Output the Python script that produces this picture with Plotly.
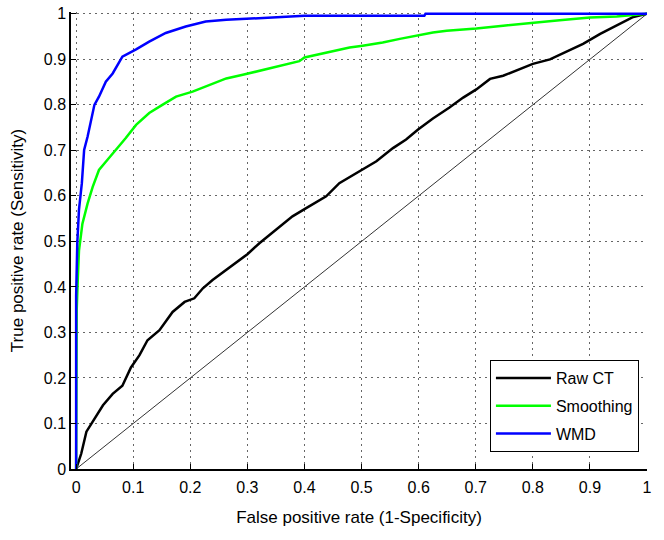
import plotly.graph_objects as go

# ROC curves
raw_fpr = [0, 0.009, 0.018, 0.03, 0.047, 0.064, 0.081, 0.096, 0.111, 0.125, 0.146, 0.169,
           0.19, 0.207, 0.222, 0.239, 0.27, 0.3, 0.321, 0.35, 0.379, 0.403, 0.438, 0.461,
           0.496, 0.526, 0.555, 0.578, 0.599, 0.625, 0.654, 0.678, 0.701, 0.725, 0.748,
           0.771, 0.8, 0.83, 0.859, 0.888, 0.918, 0.947, 0.976, 1.0]
raw_tpr = [0, 0.034, 0.082, 0.107, 0.14, 0.165, 0.183, 0.223, 0.25, 0.283, 0.305, 0.345,
           0.367, 0.375, 0.397, 0.415, 0.445, 0.472, 0.496, 0.525, 0.555, 0.573, 0.599, 0.628,
           0.654, 0.676, 0.705, 0.724, 0.746, 0.77, 0.794, 0.816, 0.834, 0.857, 0.864,
           0.875, 0.89, 0.9, 0.917, 0.934, 0.956, 0.974, 0.993, 1.0]

smooth_fpr = [0, 0.001, 0.003, 0.005, 0.011, 0.02, 0.029, 0.04, 0.052, 0.07, 0.087, 0.105,
              0.128, 0.151, 0.175, 0.204, 0.233, 0.263, 0.292, 0.315, 0.339, 0.356, 0.391,
              0.4, 0.438, 0.479, 0.502, 0.537, 0.567, 0.596, 0.625, 0.649, 0.672, 0.701,
              0.748, 0.8, 0.847, 0.9, 0.947, 1.0]
smooth_tpr = [0, 0.35, 0.42, 0.48, 0.539, 0.583, 0.62, 0.657, 0.675, 0.701, 0.727, 0.756,
              0.782, 0.8, 0.818, 0.829, 0.844, 0.858, 0.866, 0.873, 0.88, 0.885, 0.896,
              0.904, 0.915, 0.926, 0.93, 0.937, 0.945, 0.952, 0.959, 0.963, 0.965, 0.968,
              0.974, 0.981, 0.986, 0.992, 0.994, 1.0]

wmd_fpr = [0, 0, 0.002, 0.005, 0.01, 0.014, 0.02, 0.026, 0.032, 0.04, 0.052, 0.064, 0.081,
           0.105, 0.128, 0.157, 0.192, 0.227, 0.263, 0.298, 0.339, 0.4, 0.5, 0.61, 0.612, 1.0]
wmd_tpr = [0, 0.38, 0.496, 0.57, 0.628, 0.701, 0.73, 0.767, 0.8, 0.818, 0.851, 0.869, 0.906,
           0.922, 0.939, 0.958, 0.972, 0.983, 0.987, 0.989, 0.992, 0.996, 0.996, 0.996, 1.0, 1.0]

ticks = [0, 0.1, 0.2, 0.3, 0.4, 0.5, 0.6, 0.7, 0.8, 0.9, 1]
tick_text = ["0", "0.1", "0.2", "0.3", "0.4", "0.5", "0.6", "0.7", "0.8", "0.9", "1"]

font = "Liberation Sans, Arial, sans-serif"

fig = go.Figure()
# chance line
fig.add_trace(go.Scatter(x=[0, 1], y=[0, 1], mode="lines", showlegend=False,
                         line=dict(color="#333333", width=1), hoverinfo="skip"))
fig.add_trace(go.Scatter(x=raw_fpr, y=raw_tpr, mode="lines", name="Raw CT", legendgroup="a",
                         line=dict(color="#000000", width=2.5)))
fig.add_trace(go.Scatter(x=smooth_fpr, y=smooth_tpr, mode="lines", name="Smoothing", legendgroup="b",
                         line=dict(color="#00ff00", width=2.5)))
fig.add_trace(go.Scatter(x=wmd_fpr, y=wmd_tpr, mode="lines", name="WMD", legendgroup="c",
                         line=dict(color="#0000ff", width=2.5)))

axis_style = dict(
    tickvals=ticks, ticktext=tick_text,
    ticks="inside", ticklen=5, tickcolor="#000000",
    showgrid=True, gridcolor="#666666", gridwidth=1, griddash="2px,4px",
    zeroline=False, showline=True, linecolor="#000000", linewidth=1.5,
    tickfont=dict(family=font, size=16, color="#000000"),
    mirror=False, automargin=False,
)

fig.update_layout(
    width=664, height=540,
    paper_bgcolor="white", plot_bgcolor="white",
    margin=dict(l=71, r=17, t=12, b=71),
    font=dict(family=font, color="#000000"),
    xaxis=dict(range=[-0.009, 1.0], ticklabelstandoff=3,
               title=dict(text="False positive rate (1-Specificity)",
                          font=dict(size=17), standoff=16), **axis_style),
    yaxis=dict(range=[0, 1.004], title=dict(text="True positive rate (Sensitivity)",
                                            font=dict(size=17), standoff=16), **axis_style),
    legend=dict(x=0.986, y=0.037, xanchor="right", yanchor="bottom",
                bgcolor="white", bordercolor="#000000", borderwidth=1,
                font=dict(family=font, size=16, color="#000000"),
                itemwidth=55, tracegroupgap=4, traceorder="grouped"),
    showlegend=True,
)

# drop the default page margin so the figure fills the window exactly
fig.write_html("out.html", config={"displayModeBar": False},
               post_script="document.body.style.margin='0';")
